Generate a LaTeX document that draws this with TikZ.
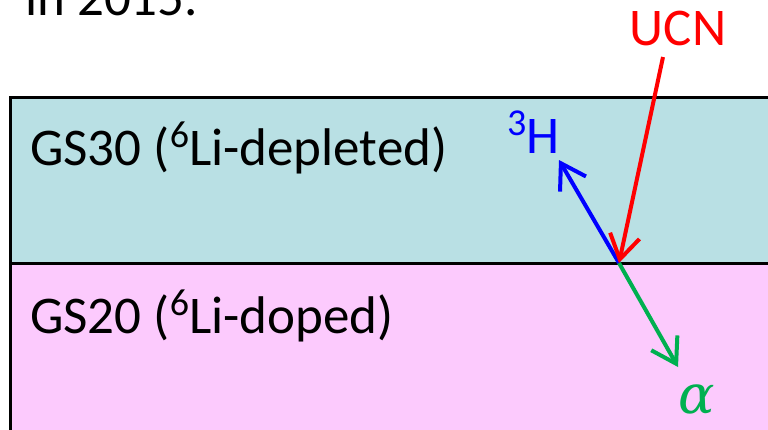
\documentclass[tikz,border=0pt]{standalone}
\usepackage{fontspec}
\setmainfont{Carlito}
\newfontfamily\greekserif{DejaVu Serif}
\usetikzlibrary{arrows.meta}
\definecolor{layerteal}{RGB}{185,224,228}
\definecolor{layerpink}{RGB}{252,202,253}
\definecolor{alphagreen}{RGB}{0,176,80}
\newcommand{\supnum}[1]{\raisebox{18pt}{\fontsize{38}{40}\selectfont #1}}
\tikzset{
  bigtext/.style={inner sep=0pt, font=\fontsize{53}{60}\selectfont},
  layer/.style={draw=black, line width=3pt},
  particle/.style={line width=4pt, -{Straight Barb[length=24pt,width=30pt]}}
}
\begin{document}
\begin{tikzpicture}[x=1pt,y=-1pt]
\useasboundingbox (0,0) rectangle (768,429);
\clip (0,0) rectangle (768,429);
\fill[white] (0,0) rectangle (768,429);
\node[bigtext, anchor=base west] (yr) at (25,15) {in 2015.};
\filldraw[layer, fill=layerteal] (10,97) rectangle (800,263);
\filldraw[layer, fill=layerpink] (10,263) rectangle (800,460);
\node[bigtext, anchor=base west] (gsthirty) at (30,165) {GS30 (\supnum{6}Li-depleted)};
\node[bigtext, anchor=base west] (gstwenty) at (30,333) {GS20 (\supnum{6}Li-doped)};
\coordinate (j) at (619,263);
\coordinate (ucnstart) at (663,57);
\coordinate (htip) at (559,160);
\coordinate (atip) at (678,367);
\draw[particle, blue] (j) -- (htip);
\draw[particle, alphagreen] (j) -- (atip);
\draw[particle, red] (ucnstart) -- (j);
\node[bigtext, red] (ucn) at (678,28) {UCN};
\node[bigtext, blue, anchor=base west] (trit) at (507,153) {\supnum{3}H};
\node[inner sep=0pt, text=alphagreen, font=\greekserif\itshape\fontsize{54}{60}\selectfont, anchor=base] (alph) at (697,413) {α};
\end{tikzpicture}
\end{document}
